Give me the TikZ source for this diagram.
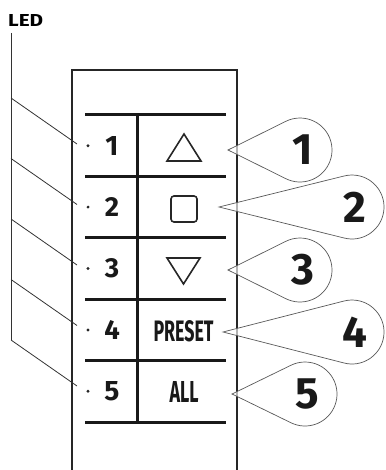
\documentclass[tikz,border=0pt]{standalone}
\usepackage{fontspec}
\setmainfont{Fira Sans}
\usetikzlibrary{calc}
\begin{document}
\begin{tikzpicture}[x=1pt,y=1pt,
  panelline/.style={line width=2pt, black!85},
  rowline/.style={line width=3pt, black!90},
  ledline/.style={line width=0.8pt, black!80},
  bubblestyle/.style={draw=black!65, line width=0.7pt, fill=white, fill opacity=0.65},
  bubblenum/.style={font=\fontsize{44}{44}\selectfont\bfseries, text=black!90, inner sep=0pt},
  rownum/.style={inner sep=0pt, text=black!90},
  leddot/.style={circle, fill=black!85, inner sep=0pt, minimum size=3.2pt},
  symb/.style={line width=1.6pt, black!85, line join=miter},
  btntext/.style={font=\bfseries, text=black!90, inner sep=0pt}]
\useasboundingbox (0,0) rectangle (385,-470);

% LED label and bus line
\node[anchor=west, inner sep=0pt, font=\bfseries] (led) at (8,-20.5) {\resizebox{35pt}{12pt}{LED}};
\coordinate (ledtop) at (11,-33);
\coordinate (ledbot) at (11,-340);
\draw[ledline] (ledtop) -- (ledbot);

% panel outline (open at bottom)
\coordinate (pbl) at (72,-470);
\coordinate (ptl) at (72,-70);
\coordinate (ptr) at (237,-70);
\coordinate (pbr) at (237,-470);
\draw[panelline] (pbl) -- (ptl) -- (ptr) -- (pbr);

% row lines
\foreach \i in {0,...,5}{
  \pgfmathsetmacro\yy{-(115+61.4*\i)}
  \coordinate (rl\i) at (85,\yy);
  \coordinate (rr\i) at (226,\yy);
  \draw[rowline] (rl\i) -- (rr\i);
}
\coordinate (divt) at (137,-115);
\coordinate (divb) at (137,-422);
\draw[rowline] (divt) -- (divb);

% row contents: dots, numbers, LED leads
\foreach \i in {1,...,5}{
  \pgfmathsetmacro\cy{-(115+61.4*\i-30.7)}
  \pgfmathsetmacro\sy{-(98+60.5*(\i-1))}
  \node[leddot] (d\i) at (88,\cy) {};
  \node[rownum] (n\i) at (112,\cy) {\resizebox{!}{19pt}{\bfseries\i}};
  \coordinate (ls\i) at (11,\sy);
  \coordinate (le\i) at (77,\sy-46);
  \draw[ledline] (ls\i) -- (le\i);
}

% button symbols
\draw[symb] (167,-161) -- (201,-161) -- (184,-134) -- cycle;
\draw[symb, rounded corners=3pt] (171,-196) rectangle (197,-222);
\draw[symb] (167,-258) -- (200,-258) -- (183.5,-284) -- cycle;
\node[btntext] (preset) at (183.5,-331) {\resizebox{60pt}{21pt}{PRESET}};
\node[btntext] (all) at (184,-391.5) {\resizebox{29pt}{21pt}{ALL}};

% callout bubbles
\newcommand\mybubble[7]{%
  \pgfmathsetmacro\bth{atan2(#2-#4,#1-#3)}%
  \pgfmathsetmacro\bd{veclen(#1-#3,#2-#4)}%
  \pgfmathsetmacro\bb{acos(#5/\bd)}%
  \pgfmathsetmacro\ba{\bth+\bb}%
  \pgfmathsetmacro\bz{\bth-\bb+360}%
  \coordinate (#7tip) at (#1,#2);
  \coordinate (#7c) at (#3,#4);
  \draw[bubblestyle] (#7tip) -- ($(#7c)+(\ba:#5)$) arc[start angle=\ba, end angle=\bz, radius=#5] -- cycle;
  \node[bubblenum] (#7) at ($(#7c)+(2.5,0)$) {#6};
}
\mybubble{228}{-150}{300}{-150}{32}{1}{b1}
\mybubble{219}{-207}{352}{-207}{32}{2}{b2}
\mybubble{228}{-270}{300}{-270}{32}{3}{b3}
\mybubble{223}{-332}{352}{-332}{32}{4}{b4}
\mybubble{232}{-394}{305}{-394}{32}{5}{b5}
\end{tikzpicture}
\end{document}
